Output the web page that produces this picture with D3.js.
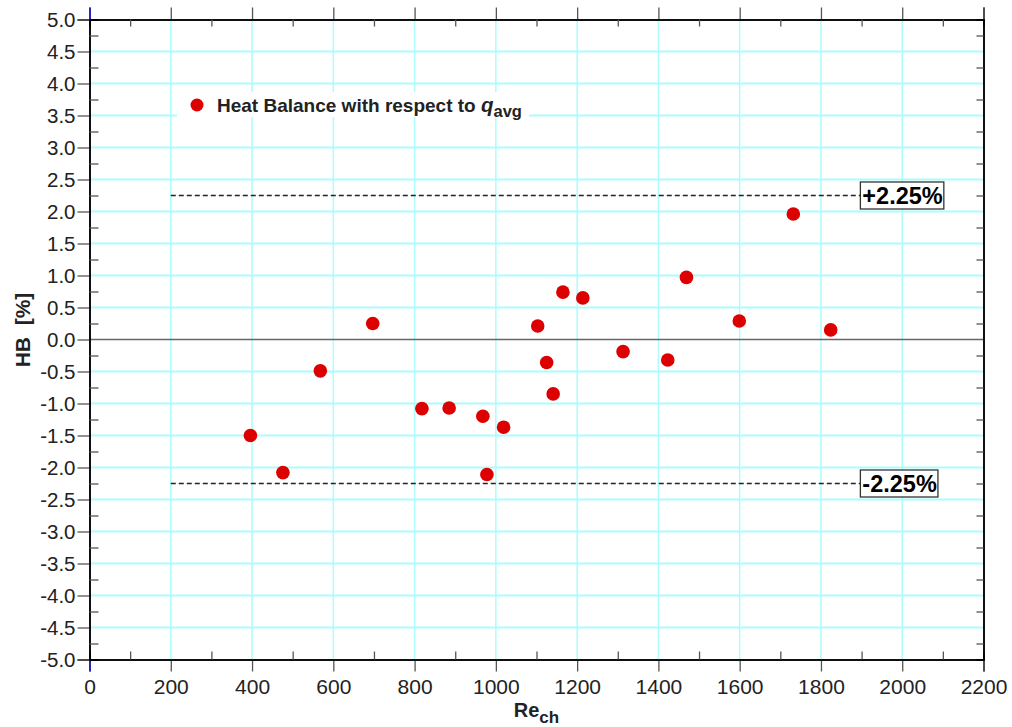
<!DOCTYPE html>
<html>
<head>
<meta charset="utf-8">
<script src="https://cdn.jsdelivr.net/npm/d3@7"></script>
<style>
  body { margin: 0; background: #fff; }
  svg { font-family: "Liberation Sans", Arial, sans-serif; }
</style>
</head>
<body>
<svg id="chart" width="1012" height="727"></svg>
<script>
// data
var reValues = [396, 476, 568, 697, 818, 885, 968, 978, 1019, 1103, 1125, 1141, 1165, 1214, 1313, 1423, 1469, 1599, 1732, 1824];
var hbValues = [-1.50, -2.08, -0.49, 0.25, -1.08, -1.07, -1.20, -2.11, -1.37, 0.21, -0.36, -0.85, 0.74, 0.65, -0.19, -0.32, 0.97, 0.29, 1.96, 0.15];
var xTicks = [0, 200, 400, 600, 800, 1000, 1200, 1400, 1600, 1800, 2000, 2200];
var yTicks = [5, 4.5, 4, 3.5, 3, 2.5, 2, 1.5, 1, 0.5, 0, -0.5, -1, -1.5, -2, -2.5, -3, -3.5, -4, -4.5, -5];
var limitValues = [2.25, -2.25];
var limitLabels = ["+2.25%", "-2.25%"];
var limitStart = 200, limitEnd = 1897;

var svg = d3.select('#chart');
var pLeft = 89.5, pRight = 983.5, pTop = 19.5, pBottom = 659.5;

var x = d3.scaleLinear().domain([0, 2200]).range([pLeft, pRight]);
var y = d3.scaleLinear().domain([-5, 5]).range([pBottom, pTop]);

var points = reValues.map(function(d, i) { return {re: d, hb: hbValues[i]}; });

// grid
var grid = svg.append('g');
grid.selectAll('line.v')
    .data(xTicks.filter(function(d){ return d > 0 && d < 2200; }))
    .enter().append('line')
    .attr('x1', function(d){ return x(d); }).attr('x2', function(d){ return x(d); })
    .attr('y1', pTop).attr('y2', pBottom)
    .attr('stroke', '#aefcfc').attr('stroke-width', 1.5);
grid.selectAll('line.h')
    .data(yTicks.filter(function(d){ return d > -5 && d < 5 && d !== 0; }))
    .enter().append('line')
    .attr('x1', pLeft).attr('x2', pRight)
    .attr('y1', function(d){ return y(d); }).attr('y2', function(d){ return y(d); })
    .attr('stroke', '#aefcfc').attr('stroke-width', 2);

// zero line
svg.append('line')
    .attr('x1', pLeft).attr('x2', pRight)
    .attr('y1', y(0)).attr('y2', y(0))
    .attr('stroke', '#666').attr('stroke-width', 1.5);

// axes
var tickColor = '#555';
var xMinor = d3.range(100, 2200, 200);
var yMinor = d3.range(-4.75, 5, 0.5);
var yFmt = function(d){ return d3.format('.1f')(d).replace('\u2212', '-'); };

var bottomAxis = svg.append('g').attr('transform', 'translate(0,' + pBottom + ')')
    .call(d3.axisBottom(x).tickValues(xTicks).tickSize(12).tickFormat(d3.format('d')));
var topAxis = svg.append('g').attr('transform', 'translate(0,' + pTop + ')')
    .call(d3.axisTop(x).tickValues(xTicks).tickSize(12).tickFormat(''));
var leftAxis = svg.append('g').attr('transform', 'translate(' + pLeft + ',0)')
    .call(d3.axisLeft(y).tickValues(yTicks).tickSize(12).tickFormat(yFmt));
var rightAxis = svg.append('g').attr('transform', 'translate(' + pRight + ',0)')
    .call(d3.axisRight(y).tickValues([]).tickSize(0));

// minor ticks pointing inward
svg.append('g').attr('transform', 'translate(0,' + pBottom + ')')
    .call(d3.axisTop(x).tickValues(xMinor).tickSize(8).tickFormat(''));
svg.append('g').attr('transform', 'translate(0,' + pTop + ')')
    .call(d3.axisBottom(x).tickValues(xMinor).tickSize(7).tickFormat(''));
svg.append('g').attr('transform', 'translate(' + pLeft + ',0)')
    .call(d3.axisRight(y).tickValues(yMinor).tickSize(9).tickFormat(''));
svg.append('g').attr('transform', 'translate(' + pRight + ',0)')
    .call(d3.axisLeft(y).tickValues(yMinor).tickSize(7).tickFormat(''));

svg.selectAll('.domain').attr('stroke', '#000').attr('stroke-width', 1.5);
svg.selectAll('.tick line').attr('stroke', tickColor).attr('stroke-width', 1.3);
bottomAxis.selectAll('.tick').filter(function(d){ return d === 0; }).select('line').attr('stroke', '#1a1aff');
topAxis.selectAll('.tick').filter(function(d){ return d === 0; }).select('line').attr('stroke', '#1a1aff');

bottomAxis.selectAll('.tick text')
    .attr('y', 20).attr('dy', '0.71em')
    .attr('fill', '#222').style('font-size', '21px');
leftAxis.selectAll('.tick text')
    .attr('x', -14).attr('dy', '0.36em')
    .attr('fill', '#222').style('font-size', '20.5px');

// axis titles
var xt = svg.append('text')
    .attr('x', (pLeft + pRight) / 2).attr('y', 717)
    .attr('text-anchor', 'middle')
    .style('font-size', '20px').style('font-weight', 'bold').attr('fill', '#222');
xt.append('tspan').text('Re');
xt.append('tspan').attr('dy', 6).style('font-size', '17px').text('ch');

svg.append('text')
    .attr('transform', 'translate(30,330) rotate(-90)')
    .attr('text-anchor', 'middle')
    .style('font-size', '21px').style('font-weight', 'bold')
    .style('white-space', 'pre').attr('fill', '#222')
    .text('HB  [%]');

// limit lines
svg.selectAll('line.limit')
    .data(limitValues)
    .enter().append('line')
    .attr('x1', x(limitStart)).attr('x2', x(limitEnd))
    .attr('y1', function(d){ return y(d); }).attr('y2', function(d){ return y(d); })
    .attr('stroke', '#222').attr('stroke-width', 1.3)
    .attr('stroke-dasharray', '5,3');

limitValues.forEach(function(v, i) {
    var g = svg.append('g');
    var t = g.append('text')
        .attr('x', x(limitEnd) + 2).attr('y', y(v) + 8.5)
        .style('font-size', '23.5px').style('font-weight', 'bold')
        .attr('fill', '#000')
        .text(limitLabels[i]);
    var bb = t.node().getBBox();
    g.insert('rect', 'text')
        .attr('x', x(limitEnd)).attr('y', y(v) - 13.5)
        .attr('width', bb.width + 3).attr('height', 27)
        .attr('fill', '#fff').attr('stroke', '#333').attr('stroke-width', 1.3);
});

// legend
var legend = svg.append('g');
legend.append('rect')
    .attr('x', 177).attr('y', 92).attr('width', 352).attr('height', 25)
    .attr('fill', '#fff');
legend.append('circle')
    .attr('cx', 197).attr('cy', 105).attr('r', 6.5)
    .attr('fill', '#dd0000');
var lt = legend.append('text')
    .attr('x', 217).attr('y', 111.5)
    .style('font-size', '19px').style('font-weight', 'bold').attr('fill', '#222');
lt.append('tspan').text('Heat Balance with respect to ');
lt.append('tspan').style('font-style', 'italic').style('font-size', '20.5px').text('q');
lt.append('tspan').attr('dy', 5).style('font-size', '16.5px').text('avg');

// points
svg.append('g').selectAll('circle')
    .data(points)
    .enter().append('circle')
    .attr('cx', function(d){ return x(d.re); })
    .attr('cy', function(d){ return y(d.hb); })
    .attr('r', 6.8)
    .attr('fill', '#dd0000');
</script>
</body>
</html>
